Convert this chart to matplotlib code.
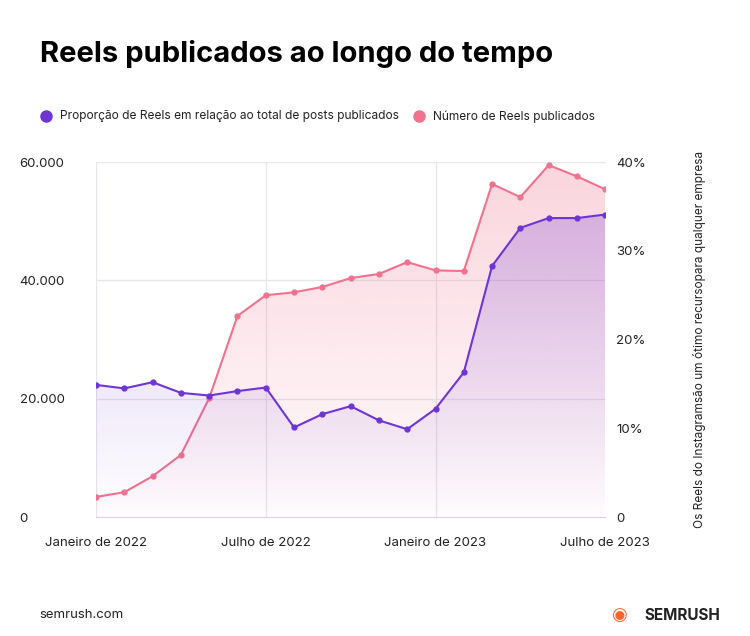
import matplotlib
matplotlib.use("Agg")
import matplotlib.pyplot as plt
import numpy as np
import matplotlib.colors as mc
from matplotlib.patches import Polygon

plt.rcParams['font.family'] = ['Inter', 'DejaVu Sans']

months = list(range(19))
xtick_pos = [0, 6, 12, 18]
xtick_labels = ["Janeiro de 2022", "Julho de 2022", "Janeiro de 2023", "Julho de 2023"]
reels_count = [3400, 4200, 6900, 10500, 20100, 34000, 37500, 38000, 38900, 40400, 41100,
               43100, 41700, 41600, 56300, 54100, 59500, 57600, 55400]
reels_share = [14.9, 14.5, 15.2, 14.0, 13.7, 14.2, 14.6, 10.1, 11.6, 12.5, 10.9, 9.9,
               12.2, 16.3, 28.3, 32.6, 33.7, 33.7, 34.1]
left_ticks = [0, 20000, 40000, 60000]
left_labels = ["0", "20.000", "40.000", "60.000"]
right_ticks = [0, 10, 20, 30, 40]
right_labels = ["0", "10%", "20%", "30%", "40%"]

pink = "#F0728F"
purple = "#6E35D4"

fig = plt.figure(figsize=(7.5, 6.36), dpi=100)
ax = fig.add_axes([0.128, 0.187, 0.679, 0.558])
ax2 = ax.twinx()

def grad_fill(a, x, y, ymax, color, alpha_top, alpha_bot):
    grad = np.linspace(alpha_bot, alpha_top, 256)
    rgba = np.zeros((256, 1, 4))
    r, g, b = mc.to_rgb(color)
    rgba[..., 0], rgba[..., 1], rgba[..., 2] = r, g, b
    rgba[:, 0, 3] = grad
    im = a.imshow(rgba, extent=[x[0], x[-1], 0, ymax], origin="lower", aspect="auto", zorder=1)
    verts = [(x[0], 0)] + list(zip(x, y)) + [(x[-1], 0)]
    poly = Polygon(verts, closed=True, transform=a.transData, facecolor="none", edgecolor="none")
    a.add_patch(poly)
    im.set_clip_path(poly)

ax.set_xlim(0, 18)
ax.set_ylim(0, 60000)
ax2.set_ylim(0, 40)
grad_fill(ax, months, reels_count, 60000, pink, 0.30, 0.02)
grad_fill(ax2, months, reels_share, 40, purple, 0.30, 0.0)
ax.plot(months, reels_count, color=pink, lw=1.5, marker="o", ms=3.5, zorder=3)
ax2.plot(months, reels_share, color=purple, lw=1.5, marker="o", ms=3.5, zorder=3)

for v in [20000, 40000, 60000]:
    ax.axhline(v, color="#E6E6EC", lw=0.9, zorder=0)
for v in [0, 6, 12]:
    ax.axvline(v, color="#E6E6EC", lw=0.9, zorder=0)

for a in (ax, ax2):
    for s in a.spines.values():
        s.set_visible(False)
ax.spines['bottom'].set_visible(True)
ax.spines['bottom'].set_color("#D5D5DD")

ax.set_yticks(left_ticks)
ax.set_yticklabels(left_labels)
ax2.set_yticks(right_ticks)
ax2.set_yticklabels(right_labels)
ax.set_xticks(xtick_pos)
ax.set_xticklabels(xtick_labels)
ax.tick_params(axis="y", length=0, labelsize=9.5, pad=55, colors="#222")
for lab in ax.get_yticklabels():
    lab.set_horizontalalignment("left")
ax2.tick_params(axis="y", length=0, labelsize=9.5, pad=8, colors="#222")
ax.tick_params(axis="x", length=0, labelsize=9.5, pad=14, colors="#222")
ax2.set_ylabel("Os Reels do Instagramsão um ótimo recursopara qualquer empresa",
               fontsize=8.5, labelpad=34, color="#222")

fig.text(0.053, 0.915, "Reels publicados ao longo do tempo", fontsize=21, fontweight="bold", va="center")
fig.lines.append(plt.Line2D([0.061], [0.817], marker="o", ms=8, color=purple, transform=fig.transFigure))
fig.text(0.08, 0.817, "Proporção de Reels em relação ao total de posts publicados", fontsize=8.6, va="center", color="#222")
fig.lines.append(plt.Line2D([0.558], [0.817], marker="o", ms=8, color=pink, transform=fig.transFigure))
fig.text(0.577, 0.817, "Número de Reels publicados", fontsize=8.6, va="center", color="#222")
fig.text(0.053, 0.033, "semrush.com", fontsize=9.5, va="center", color="#222")
fig.text(0.96, 0.033, "SEMRUSH", fontsize=11, fontweight="bold", va="center", ha="right", color="#222")
fig.text(0.825, 0.033, "◉", fontsize=13, va="center", ha="center", color="#FF642D")

fig.savefig("out.png", dpi=100, facecolor="white")
